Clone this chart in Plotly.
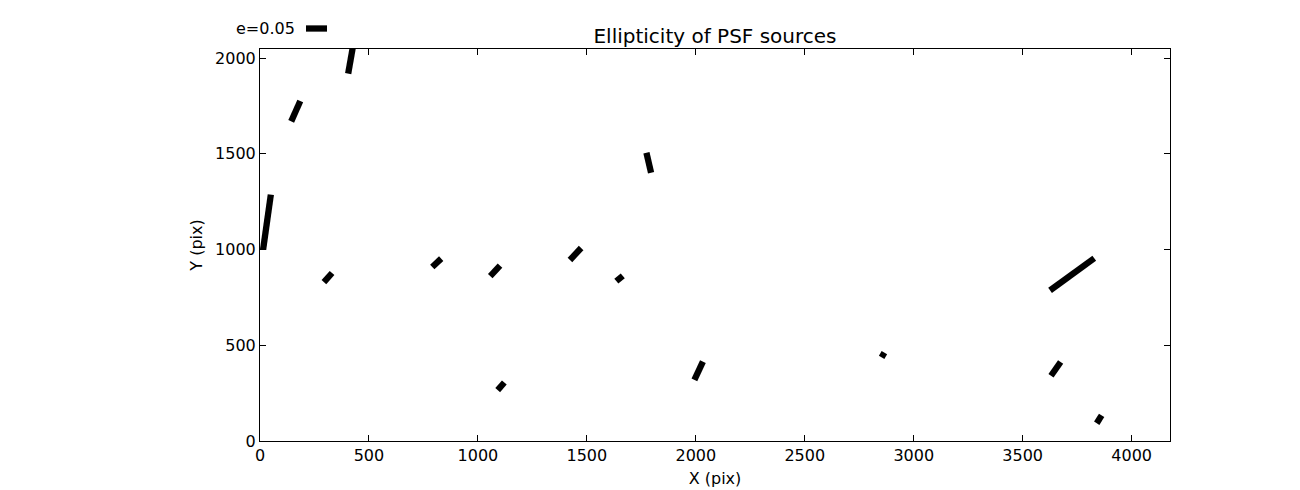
import plotly.graph_objects as go

# Source positions (pix), ellipticity and position angle (deg, ccw from +x)
src_x = [32, 164, 418, 312, 811, 1079, 1448, 1650, 1784, 1106, 2013, 2859, 3727, 3652, 3851]
src_y = [1144, 1723, 2006, 854, 931, 889, 977, 849, 1454, 286, 367, 449, 871, 377, 113]
ellip = [0.132, 0.053, 0.080, 0.029, 0.029, 0.034, 0.039, 0.020, 0.049, 0.024, 0.048, 0.013, 0.130, 0.040, 0.022]
theta = [82, 66, 80, 48, 43, 47, 47, 40, 103, 49, 65, 60, 36, 55, 58]

key_e = 0.05
key_label = "e=0.05"

x_ticks = [0, 500, 1000, 1500, 2000, 2500, 3000, 3500, 4000]
y_ticks = [0, 500, 1000, 1500, 2000]
x_range = [0, 4176]
y_range = [0, 2048]

SCALE = 420.0  # pixels per unit ellipticity
STICK_W = 6.3
LINE_SYM = 1.4  # plotly 'line-ew' symbol length = 1.4 * marker size

W, H = 1300, 490
L, R, T, B = 260, 130, 49, 49
PW, PH = W - L - R, H - T - B
FONT = "DejaVu Sans"

fig = go.Figure()
fig.add_trace(go.Scatter(
    x=src_x, y=src_y, mode="markers",
    marker=dict(symbol="line-ew", size=[e * SCALE / LINE_SYM for e in ellip],
                angle=[-t for t in theta], opacity=1,
                line=dict(width=STICK_W, color="black"), color="black"),
    showlegend=False, hoverinfo="skip", cliponaxis=True,
))

# quiver key above the axes, left side
key_x0 = 306
key_y = 28.5
fig.add_shape(type="line", xref="paper", yref="paper",
              x0=(key_x0 - L) / PW, x1=(key_x0 + key_e * SCALE - L) / PW,
              y0=1 + (T - key_y) / PH, y1=1 + (T - key_y) / PH,
              line=dict(color="black", width=STICK_W))
fig.add_annotation(x=(297 - L) / PW, y=1 + (T - key_y) / PH, xref="paper", yref="paper",
                   xanchor="right", yanchor="middle", text=key_label,
                   showarrow=False, font=dict(family=FONT, size=16, color="black"))

axis_common = dict(showline=True, linecolor="black", linewidth=1, mirror="ticks",
                   ticks="inside", ticklen=6, tickcolor="black", tickwidth=1,
                   showgrid=False, zeroline=False,
                   tickfont=dict(family=FONT, size=16, color="black"))
fig.update_xaxes(range=x_range, tickvals=x_ticks, ticktext=[str(v) for v in x_ticks],
                 title=dict(text="X (pix)", font=dict(family=FONT, size=16, color="black"), standoff=8),
                 **axis_common)
fig.update_yaxes(range=y_range, tickvals=y_ticks, ticktext=[str(v) for v in y_ticks],
                 title=dict(text="Y (pix)", font=dict(family=FONT, size=16, color="black"), standoff=8),
                 **axis_common)

fig.update_layout(
    width=W, height=H, margin=dict(l=L, r=R, t=T, b=B, autoexpand=False),
    paper_bgcolor="white", plot_bgcolor="white",
    title=dict(text="Ellipticity of PSF sources", x=(L + PW / 2) / W, xanchor="center",
               y=1 - 36 / H, yanchor="middle",
               font=dict(family=FONT, size=20, color="black")),
    font=dict(family=FONT, color="black"),
)

fig.write_html("out.html", config={"displayModeBar": False},
               post_script="document.body.style.margin='0px';")
